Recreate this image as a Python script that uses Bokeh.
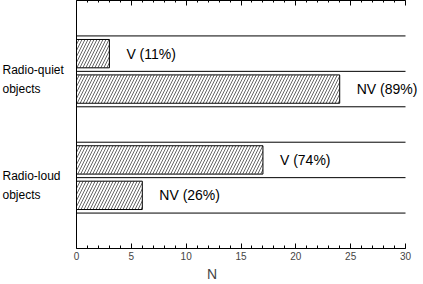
from bokeh.plotting import figure
from bokeh.models import (ColumnDataSource, LabelSet, Label, LinearAxis,
                          FixedTicker, Range1d, Span)
from bokeh.core.properties import value
from bokeh.embed import file_html
from bokeh.resources import INLINE

# ---- data ----
groups = ["Radio-quiet\nobjects", "Radio-loud\nobjects"]
classes = ["V", "NV"]
radio_quiet = [3, 24]
radio_loud = [17, 6]
x_ticks = [0, 5, 10, 15, 20, 25, 30]
x_minor = list(range(0, 31))

FONT = "Liberation Sans"

# layout: each group occupies 2 rows, separated by an empty row
group_centers = [5.0, 2.0]
ys, vals, labels = [], [], []
for gc, counts in zip(group_centers, [radio_quiet, radio_loud]):
    tot = sum(counts)
    for ci, (cls, n) in enumerate(zip(classes, counts)):
        ys.append(gc + 0.5 - ci)
        vals.append(n)
        labels.append(f"{cls} ({round(100 * n / tot)}%)")

seps = sorted({gc + d for gc in group_centers for d in (-1, 0, 1)})
y_top = max(seps) + 1

src = ColumnDataSource(dict(y=ys, right=vals, text=labels))
sep_src = ColumnDataSource(dict(y=seps, x0=[x_ticks[0]] * len(seps),
                                x1=[x_ticks[-1]] * len(seps)))

p = figure(width=423, height=284, output_backend="svg", toolbar_location=None,
           x_range=Range1d(-6.93, 31.64), y_range=Range1d(0, y_top),
           min_border_left=0, min_border_right=0, min_border_top=0,
           min_border_bottom=0)
p.outline_line_color = None
p.background_fill_color = "white"
p.grid.visible = False

# separators
p.segment(x0="x0", x1="x1", y0="y", y1="y", source=sep_src,
          line_color="black", line_width=1)

p.hbar(y="y", left=0, right="right", height=0.8, source=src,
       fill_color="white", line_color="black", line_width=1,
       hatch_pattern="/", hatch_color="black", hatch_scale=6, hatch_weight=0.6)

# bottom axis
xa = p.xaxis[0]
xa.ticker = FixedTicker(ticks=x_ticks, minor_ticks=x_minor)
xa.bounds = (0, 30)
xa.axis_label = "N"
xa.axis_label_text_font = FONT
xa.axis_label_text_font_size = "14px"
xa.axis_label_text_font_style = "normal"
xa.axis_label_standoff = 3
xa.major_label_text_font = FONT
xa.major_label_text_font_size = "10px"
xa.major_label_standoff = 3
xa.major_tick_in = 5
xa.major_tick_out = 0
xa.minor_tick_in = 3
xa.minor_tick_out = 0
xa.axis_line_color = "black"
xa.major_tick_line_color = "black"
xa.minor_tick_line_color = "black"

# top axis: line and ticks, no visible labels
ta = LinearAxis(ticker=FixedTicker(ticks=x_ticks, minor_ticks=x_minor),
                bounds=(0, 30),
                major_label_text_font_size="0px", major_label_standoff=0,
                major_tick_in=5, major_tick_out=0, minor_tick_in=2, minor_tick_out=0,
                axis_line_color="black", major_tick_line_color="black",
                minor_tick_line_color="black")
p.add_layout(ta, "above")

# left axis: plain line at x = 0
p.yaxis.visible = False
p.add_layout(Span(location=0, dimension="height", line_color="black", line_width=1))

# bar labels
p.add_layout(LabelSet(x="right", y="y", text="text", source=src, x_offset=17,
                      text_baseline="middle", text_align="left",
                      text_font=value(FONT), text_font_size=value("14px"),
                      text_color="black"))

# group labels
for g, gc in zip(groups, group_centers):
    p.add_layout(Label(x=0, y=gc, text=g, x_offset=-74, y_offset=-8,
                       text_align="left", text_baseline="middle",
                       text_font=FONT, text_font_size="12px",
                       text_line_height=1.4, text_color="black"))

open("out.html", "w").write(file_html(p, INLINE))
